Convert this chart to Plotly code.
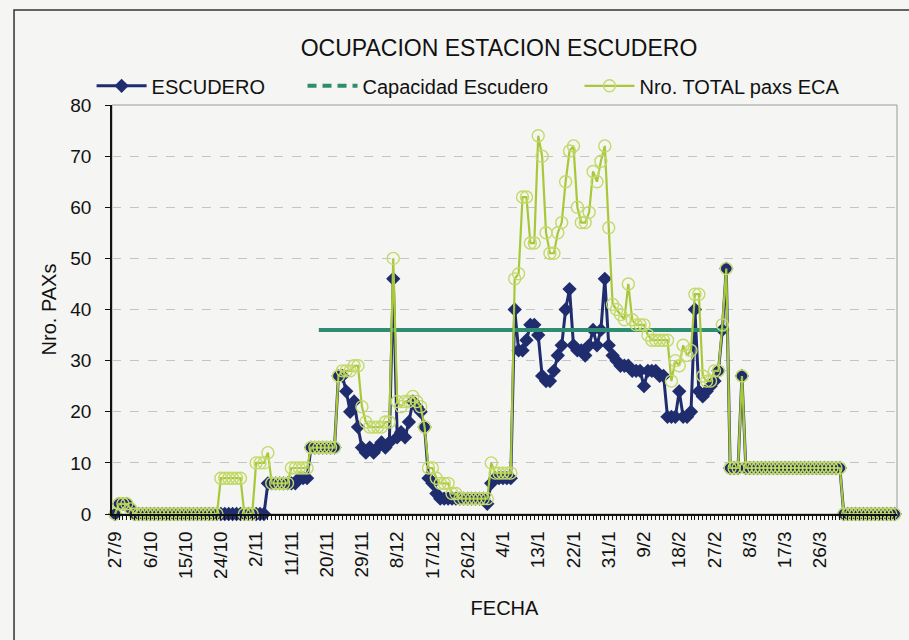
import pandas as pd
import plotly.graph_objects as go

# ---------------- data ----------------
START_DATE = "2009-09-27"

ESCUDERO = [
    0, 2, 2, 2, 1, 0, 0, 0, 0, 0,
    0, 0, 0, 0, 0, 0, 0, 0, 0, 0,
    0, 0, 0, 0, 0, 0, 0, 0, 0, 0,
    0, 0, 0, 0, 0, 0, 0, 0, 0, 6,
    6, 6, 6, 6, 6, 6, 6, 7, 7, 7,
    13, 13, 13, 13, 13, 13, 13, 27, 27, 24,
    20, 22, 17, 13, 12, 13, 12, 13, 14, 13,
    14, 46, 15, 16, 15, 18, 22, 21, 20, 17,
    7, 6, 4, 3, 3, 3, 3, 3, 3, 3,
    3, 3, 3, 3, 3, 2, 6, 7, 7, 7,
    7, 7, 40, 32, 32, 34, 37, 37, 35, 27,
    26, 26, 28, 31, 33, 40, 44, 33, 32, 32,
    31, 33, 36, 33, 36, 46, 33, 31, 30, 29,
    29, 29, 28, 28, 28, 25, 28, 28, 28, 27,
    27, 19, 19, 19, 24, 19, 19, 20, 40, 24,
    23, 24, 25, 26, 28, 36, 48, 9, 9, 9,
    27, 9, 9, 9, 9, 9, 9, 9, 9, 9,
    9, 9, 9, 9, 9, 9, 9, 9, 9, 9,
    9, 9, 9, 9, 9, 9, 0, 0, 0, 0,
    0, 0, 0, 0, 0, 0, 0, 0, 0, 0,
]

TOTAL_ECA = [
    0, 2, 2, 2, 1, 0, 0, 0, 0, 0,
    0, 0, 0, 0, 0, 0, 0, 0, 0, 0,
    0, 0, 0, 0, 0, 0, 0, 7, 7, 7,
    7, 7, 7, 0, 0, 0, 10, 10, 10, 12,
    6, 6, 6, 6, 6, 9, 9, 9, 9, 9,
    13, 13, 13, 13, 13, 13, 13, 27, 28, 28,
    28, 29, 29, 21, 18, 17, 17, 17, 17, 18,
    18, 50, 22, 21, 22, 22, 23, 22, 21, 17,
    9, 9, 7, 6, 6, 6, 4, 4, 3, 3,
    3, 3, 3, 3, 3, 3, 10, 8, 8, 8,
    8, 8, 46, 47, 62, 62, 53, 53, 74, 70,
    55, 51, 51, 55, 57, 65, 71, 72, 60, 57,
    57, 59, 67, 65, 69, 72, 56, 41, 40, 39,
    38, 45, 38, 37, 37, 37, 35, 34, 34, 34,
    34, 34, 26, 30, 29, 33, 31, 32, 43, 43,
    27, 26, 26, 28, 28, 37, 48, 9, 9, 9,
    27, 9, 9, 9, 9, 9, 9, 9, 9, 9,
    9, 9, 9, 9, 9, 9, 9, 9, 9, 9,
    9, 9, 9, 9, 9, 9, 0, 0, 0, 0,
    0, 0, 0, 0, 0, 0, 0, 0, 0, 0,
]

CAPACITY_DATES = ["2009-11-18", "2010-03-02"]
CAPACITY_VALUES = [36, 36]

TICK_LABELS = ["27/9", "6/10", "15/10", "24/10", "2/11", "11/11", "20/11",
               "29/11", "8/12", "17/12", "26/12", "4/1", "13/1", "22/1",
               "31/1", "9/2", "18/2", "27/2", "8/3", "17/3", "26/3"]
TICK_STEP_DAYS = 9

TITLE = "OCUPACION ESTACION ESCUDERO"
X_TITLE = "FECHA"
Y_TITLE = "Nro. PAXs"

# ---------------- figure ----------------
dates = pd.date_range(START_DATE, periods=len(ESCUDERO), freq="D")
tickvals = pd.date_range(START_DATE, periods=len(TICK_LABELS), freq=f"{TICK_STEP_DAYS}D")

FONT = "Liberation Sans, Arial, sans-serif"
NAVY = "#1F2D6E"
TEAL = "#2E8C70"
LIME = "#A8C83A"
LIME_MK = "#C3D96A"

fig = go.Figure()

fig.add_trace(go.Scatter(
    x=dates, y=ESCUDERO, name="ESCUDERO", mode="lines+markers",
    line=dict(color=NAVY, width=3),
    marker=dict(symbol="diamond", size=11, color=NAVY),
    cliponaxis=False, legend="legend",
))
fig.add_trace(go.Scatter(
    x=pd.to_datetime(CAPACITY_DATES), y=CAPACITY_VALUES, name="Capacidad Escudero",
    mode="lines", line=dict(color=TEAL, width=4), showlegend=False,
))
# legend-only entry (dashed, as in the reference legend)
fig.add_trace(go.Scatter(
    x=[None], y=[None], name="Capacidad Escudero", mode="lines",
    line=dict(color=TEAL, width=4, dash="9px,6px"), legend="legend2",
))
fig.add_trace(go.Scatter(
    x=dates, y=TOTAL_ECA, name="Nro. TOTAL paxs ECA", mode="lines+markers",
    line=dict(color=LIME, width=2.2),
    marker=dict(symbol="circle-open", size=12, color=LIME_MK, line=dict(width=1.4)),
    cliponaxis=False, legend="legend3",
))

x_start = dates[0] - pd.Timedelta(hours=19)
x_end = dates[-1] + pd.Timedelta(hours=14)

legend_common = dict(orientation="h", yanchor="middle", y=1.047, xanchor="left",
                     font=dict(family=FONT, size=20, color="#111"),
                     itemwidth=50,
                     bgcolor="rgba(0,0,0,0)", borderwidth=0)

fig.update_layout(
    width=909, height=640,
    margin=dict(l=112, r=12, t=105, b=126),
    paper_bgcolor="#F5F5F3", plot_bgcolor="#F5F5F3",
    font=dict(family=FONT, size=19, color="#111"),
    title=dict(text=TITLE, xref="paper", x=0.493, xanchor="center", y=0.925, yanchor="middle",
               font=dict(family=FONT, size=23, color="#111")),
    showlegend=True,
    legend=dict(x=-0.026, **legend_common),
    legend2=dict(x=0.2427, **legend_common),
    legend3=dict(x=0.5955, **legend_common),
    xaxis=dict(
        type="date", range=[x_start, x_end],
        tickvals=tickvals, ticktext=TICK_LABELS, tickangle=-90,
        tickfont=dict(family=FONT, size=19, color="#111"),
        ticks="outside", ticklen=4, tickcolor="#111",
        ticklabelstandoff=4,
        minor=dict(dtick=86400000, tick0=START_DATE, ticks="outside", ticklen=4,
                   tickcolor="#111", showgrid=False),
        showline=True, linecolor="#111", linewidth=1.5,
        showgrid=False, zeroline=False,
        title=dict(text=X_TITLE, standoff=23, font=dict(family=FONT, size=20, color="#111")),
    ),
    yaxis=dict(
        range=[0, 80], dtick=10,
        tickfont=dict(family=FONT, size=19, color="#111"),
        ticks="outside", ticklen=5, tickcolor="#111",
        ticklabelstandoff=10,
        showline=True, linecolor="#111", linewidth=1.5,
        showgrid=True, gridcolor="#C4C4C4", griddash="dash", gridwidth=1,
        zeroline=False,
        title=dict(text=Y_TITLE, standoff=8, font=dict(family=FONT, size=20, color="#111")),
    ),
    shapes=[
        # plot-area border
        dict(type="rect", xref="paper", yref="paper", x0=0, x1=1, y0=0, y1=1,
             line=dict(color="#9A9A9A", width=1), layer="below"),
        # outer chart frame
        dict(type="rect", xref="paper", yref="paper", x0=-0.1248, x1=1.2, y0=-0.5, y1=1.2323,
             line=dict(color="#333333", width=1.5), layer="below"),
    ],
)

fig.write_html(
    "out.html",
    config={"displayModeBar": False},
    post_script="document.body.style.margin='0';document.body.style.background='#F5F5F3';",
)
